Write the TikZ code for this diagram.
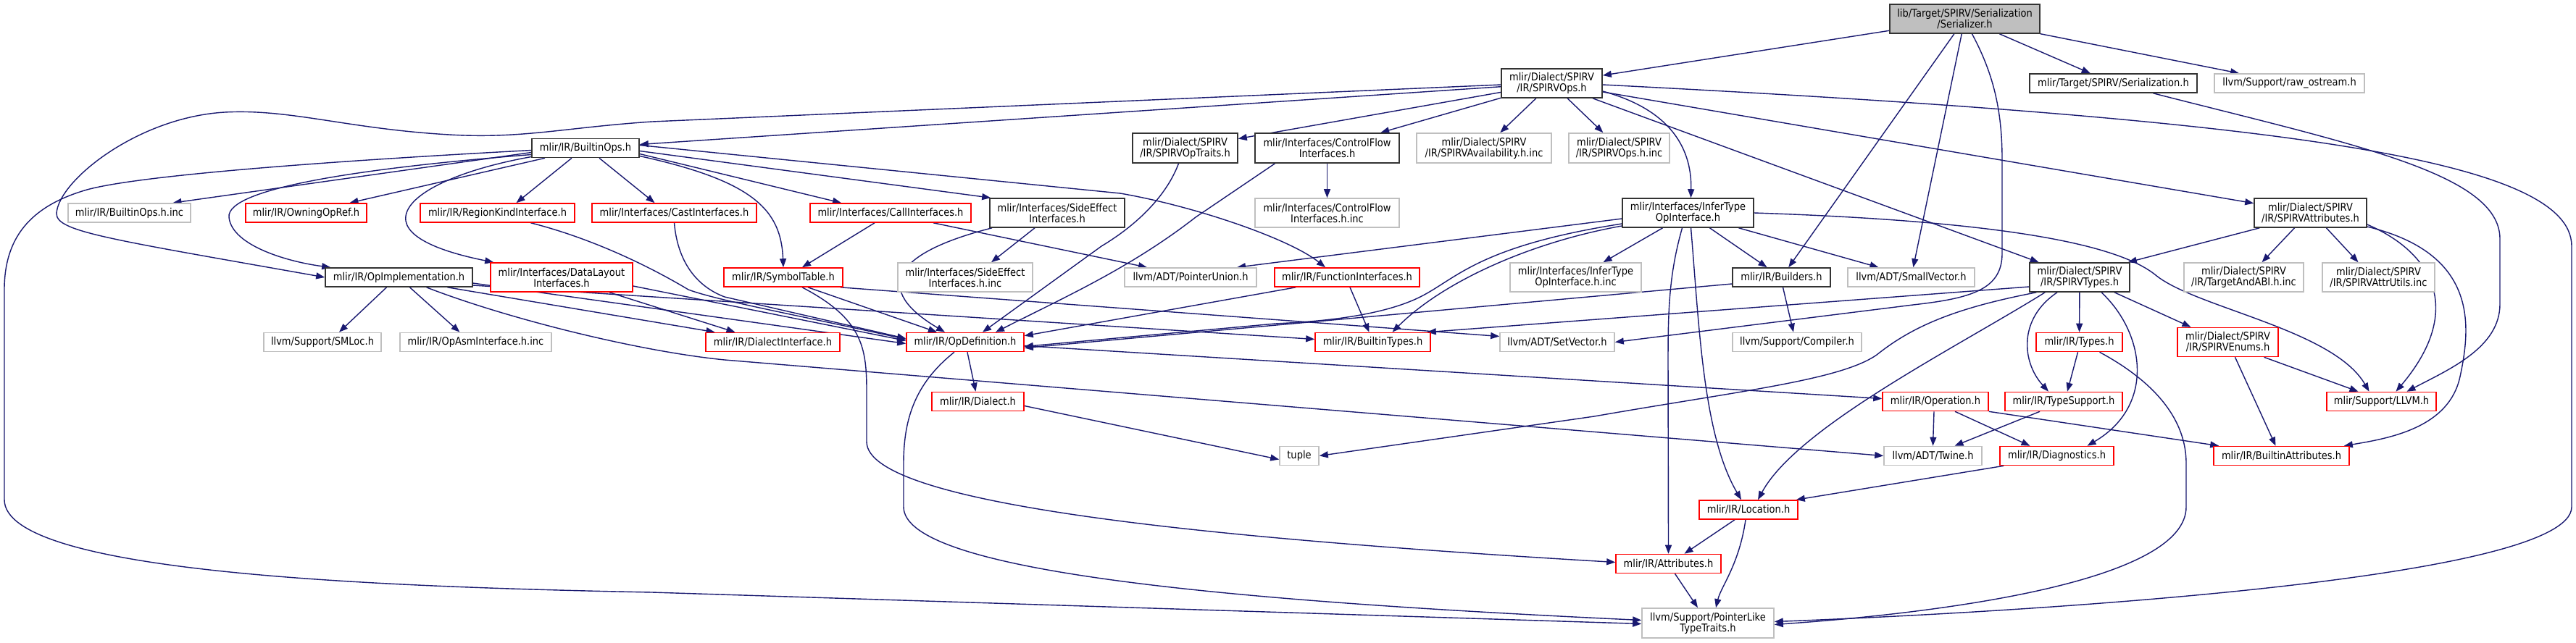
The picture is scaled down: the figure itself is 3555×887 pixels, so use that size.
\documentclass[tikz,border=0pt]{standalone}
\usepackage{fontspec}
\setmainfont{DejaVu Sans}[FakeStretch=0.88]
\usetikzlibrary{arrows.meta}
\definecolor{edgeblue}{HTML}{191970}
\pgfdeclarelayer{bg}
\pgfsetlayers{bg,main}
\tikzset{
  box/.style={rectangle, inner sep=0pt, align=center, fill=white, line width=1.6pt, font=\fontsize{14.8}{15}\selectfont},
  dk/.style={box, draw=black!80},
  rd/.style={box, draw=red},
  gy/.style={box, draw=black!25},
  cur/.style={box, draw=black!80, fill=black!25},
  conn/.style={draw=edgeblue, line width=1.4pt, -{Triangle[length=12pt,width=9pt]}}
}
\begin{document}
\begin{tikzpicture}[x=1pt,y=-1pt]
\useasboundingbox (0,0) rectangle (3555,887);
% nodes
\node[cur, minimum width=207pt, minimum height=40pt] (serializer) at (2711.5,26) {lib/Target/SPIRV/Serialization\\/Serializer.h};
\node[dk, minimum width=139pt, minimum height=40pt] (spirvops) at (2141.5,115) {mlir/Dialect/SPIRV\\/IR/SPIRVOps.h};
\node[dk, minimum width=231pt, minimum height=26pt] (serialization) at (2916.5,115) {mlir/Target/SPIRV/Serialization.h};
\node[gy, minimum width=207pt, minimum height=26pt] (rawostream) at (3159.5,115) {llvm/Support/raw\_ostream.h};
\node[dk, minimum width=148pt, minimum height=26pt] (builtinops) at (808,204.5) {mlir/IR/BuiltinOps.h};
\node[dk, minimum width=145pt, minimum height=41pt] (optraits) at (1635.5,204.5) {mlir/Dialect/SPIRV\\/IR/SPIRVOpTraits.h};
\node[dk, minimum width=199pt, minimum height=41pt] (cfi) at (1831.5,204.5) {mlir/Interfaces/ControlFlow\\Interfaces.h};
\node[gy, minimum width=186pt, minimum height=41pt] (avail) at (2048,204.5) {mlir/Dialect/SPIRV\\/IR/SPIRVAvailability.h.inc};
\node[gy, minimum width=139pt, minimum height=41pt] (opsinc) at (2234.5,204.5) {mlir/Dialect/SPIRV\\/IR/SPIRVOps.h.inc};
\node[dk, minimum width=155pt, minimum height=40pt] (attrs) at (3188.5,294) {mlir/Dialect/SPIRV\\/IR/SPIRVAttributes.h};
\node[gy, minimum width=169pt, minimum height=26pt] (builtinopsinc) at (178.5,294) {mlir/IR/BuiltinOps.h.inc};
\node[rd, minimum width=167pt, minimum height=26pt] (owning) at (422.5,294) {mlir/IR/OwningOpRef.h};
\node[rd, minimum width=213pt, minimum height=26pt] (regionkind) at (686.5,294) {mlir/IR/RegionKindInterface.h};
\node[rd, minimum width=227pt, minimum height=26pt] (cast) at (930.5,294) {mlir/Interfaces/CastInterfaces.h};
\node[rd, minimum width=222pt, minimum height=26pt] (call) at (1229,294) {mlir/Interfaces/CallInterfaces.h};
\node[dk, minimum width=186pt, minimum height=40pt] (sideeffect) at (1459,294) {mlir/Interfaces/SideEffect\\Interfaces.h};
\node[gy, minimum width=199pt, minimum height=40pt] (cfiinc) at (1831.5,294) {mlir/Interfaces/ControlFlow\\Interfaces.h.inc};
\node[dk, minimum width=181pt, minimum height=40pt] (infertype) at (2329.5,294) {mlir/Interfaces/InferType\\OpInterface.h};
\node[dk, minimum width=203pt, minimum height=26pt] (opimpl) at (550.5,383) {mlir/IR/OpImplementation.h};
\node[rd, minimum width=196pt, minimum height=40pt] (datalayout) at (775,383) {mlir/Interfaces/DataLayout\\Interfaces.h};
\node[rd, minimum width=164pt, minimum height=26pt] (symtab) at (1081,383) {mlir/IR/SymbolTable.h};
\node[gy, minimum width=186pt, minimum height=40pt] (seinc) at (1332,383) {mlir/Interfaces/SideEffect\\Interfaces.h.inc};
\node[gy, minimum width=182pt, minimum height=26pt] (ptrunion) at (1643,383) {llvm/ADT/PointerUnion.h};
\node[rd, minimum width=200pt, minimum height=26pt] (funcif) at (1859,383) {mlir/IR/FunctionInterfaces.h};
\node[gy, minimum width=181pt, minimum height=40pt] (inferinc) at (2174.5,383) {mlir/Interfaces/InferType\\OpInterface.h.inc};
\node[dk, minimum width=135pt, minimum height=26pt] (builders) at (2458.5,383) {mlir/IR/Builders.h};
\node[gy, minimum width=175pt, minimum height=26pt] (smallvec) at (2637.5,383) {llvm/ADT/SmallVector.h};
\node[dk, minimum width=138pt, minimum height=40pt] (spirvtypes) at (2870,383) {mlir/Dialect/SPIRV\\/IR/SPIRVTypes.h};
\node[gy, minimum width=165pt, minimum height=40pt] (tabi) at (3096.5,383) {mlir/Dialect/SPIRV\\/IR/TargetAndABI.h.inc};
\node[gy, minimum width=155pt, minimum height=40pt] (attrutils) at (3282.5,383) {mlir/Dialect/SPIRV\\/IR/SPIRVAttrUtils.inc};
\node[gy, minimum width=162pt, minimum height=26pt] (smloc) at (445,472.5) {llvm/Support/SMLoc.h};
\node[gy, minimum width=209pt, minimum height=26pt] (opasm) at (656.5,472.5) {mlir/IR/OpAsmInterface.h.inc};
\node[rd, minimum width=185pt, minimum height=26pt] (dialectif) at (1066.5,472.5) {mlir/IR/DialectInterface.h};
\node[rd, minimum width=162pt, minimum height=26pt] (opdef) at (1332,472.5) {mlir/IR/OpDefinition.h};
\node[rd, minimum width=159pt, minimum height=26pt] (builtintypes) at (1894.5,472.5) {mlir/IR/BuiltinTypes.h};
\node[gy, minimum width=158pt, minimum height=26pt] (setvector) at (2149,472.5) {llvm/ADT/SetVector.h};
\node[gy, minimum width=178pt, minimum height=26pt] (compiler) at (2480,472.5) {llvm/Support/Compiler.h};
\node[rd, minimum width=119pt, minimum height=26pt] (types) at (2869.5,472.5) {mlir/IR/Types.h};
\node[rd, minimum width=139pt, minimum height=40pt] (enums) at (3074.5,472.5) {mlir/Dialect/SPIRV\\/IR/SPIRVEnums.h};
\node[rd, minimum width=127pt, minimum height=26pt] (dialect) at (1349.5,554.5) {mlir/IR/Dialect.h};
\node[rd, minimum width=146pt, minimum height=26pt] (operation) at (2671,554.5) {mlir/IR/Operation.h};
\node[rd, minimum width=162pt, minimum height=26pt] (typesupport) at (2848,554.5) {mlir/IR/TypeSupport.h};
\node[rd, minimum width=151pt, minimum height=26pt] (llvmh) at (3286.5,554.5) {mlir/Support/LLVM.h};
\node[gy, minimum width=54pt, minimum height=26pt] (tuple) at (1793,629.5) {tuple};
\node[gy, minimum width=135pt, minimum height=26pt] (twine) at (2667.5,629.5) {llvm/ADT/Twine.h};
\node[rd, minimum width=157pt, minimum height=26pt] (diag) at (2838.5,629.5) {mlir/IR/Diagnostics.h};
\node[rd, minimum width=187pt, minimum height=26pt] (builtinattrs) at (3148.5,629.5) {mlir/IR/BuiltinAttributes.h};
\node[rd, minimum width=136pt, minimum height=26pt] (location) at (2413,704) {mlir/IR/Location.h};
\node[rd, minimum width=145pt, minimum height=26pt] (attributes) at (2302.5,778.5) {mlir/IR/Attributes.h};
\node[gy, minimum width=182pt, minimum height=41pt] (ptrlike) at (2357,860.5) {llvm/Support/PointerLike\\TypeTraits.h};

\begin{pgfonlayer}{bg}
\fill[white] (0,0) rectangle (3555,887);
% Serializer
\draw[conn] (serializer) -- (spirvops);
\draw[conn] (serializer) -- (serialization);
\draw[conn] (serializer) -- (rawostream);
\draw[conn] (serializer) -- (builders);
\draw[conn] (serializer) -- (smallvec);
\draw[conn] ([xshift=10]serializer.south) .. controls (2750,100) and (2763,150) .. (2763,220) -- (2763,350) .. controls (2763,400) and (2720,412) .. (2640,421) -- (setvector.east);
% SPIRVOps
\draw[conn] (spirvops) -- (optraits);
\draw[conn] (spirvops) -- (cfi);
\draw[conn] (spirvops) -- (avail);
\draw[conn] (spirvops) -- (opsinc);
\draw[conn] (spirvops) -- (spirvtypes);
\draw[conn] (spirvops) -- (attrs);
\draw[conn] (spirvops) -- (builtinops);
\draw[conn] ([yshift=-11]spirvops.east) .. controls (2300,150) and (2335,200) .. ([xshift=4]infertype.north);
\draw[conn] ([yshift=-2]spirvops.east) .. controls (3150,165) and (3549,220) .. (3549,340) -- (3549,700) .. controls (3549,800) and (2800,845) .. ([yshift=2]ptrlike.east);
\draw[conn] ([yshift=-2]spirvops.west) -- (900,168) .. controls (780,176) and (720,192) .. (620,186) .. controls (480,178) and (400,150) .. (310,155) .. controls (190,162) and (80,250) .. (78,295) .. controls (78,320) and (150,330) .. (opimpl.west);
% BuiltinOps
\draw[conn] ([yshift=-3]builtinops.west) .. controls (500,220) and (200,240) .. (120,262) .. controls (40,285) and (6,330) .. (6,400) -- (6,690) .. controls (6,790) and (500,810) .. (900,818) -- ([yshift=-1]ptrlike.west);
\draw[conn] ([yshift=-6]builtinops.west) -- ([xshift=60]builtinopsinc.north);
\draw[conn] ([yshift=-9]builtinops.west) .. controls (500,232) and (312,260) .. (316,300) .. controls (320,340) and (400,362) .. ([xshift=8]opimpl.north west);
\draw[conn] ([yshift=-12]builtinops.west) .. controls (630,235) and (555,270) .. (560,305) .. controls (565,335) and (630,352) .. ([xshift=5]datalayout.north west);
\draw[conn] ([xshift=-56]builtinops.south) -- ([xshift=60]owning.north);
\draw[conn] ([xshift=-19]builtinops.south) -- ([xshift=26]regionkind.north);
\draw[conn] ([xshift=19]builtinops.south) -- ([xshift=-27]cast.north);
\draw[conn] ([yshift=-8]builtinops.east) -- ([xshift=-68]call.north);
\draw[conn] ([yshift=-4]builtinops.east) -- ([xshift=2]sideeffect.north west);
\draw[conn] ([yshift=-11]builtinops.east) .. controls (1040,250) and (1078,290) .. (symtab.north);
\draw[conn] ([yshift=4]builtinops.east) -- (1546,267) .. controls (1650,285) and (1780,330) .. ([xshift=-30]funcif.north);
% second tier
\draw[conn] ([xshift=-9]optraits.south) .. controls (1610,270) and (1570,310) .. (1520,340) -- ([xshift=24]opdef.north);
\draw[conn] ([xshift=-72]cfi.south) -- (1650,300) .. controls (1560,370) and (1470,410) .. ([xshift=42]opdef.north);
\draw[conn] (cfi) -- (cfiinc);
\draw[conn] ([xshift=-31]sideeffect.south) -- ([xshift=36]seinc.north);
\draw[conn] ([xshift=-90]sideeffect.south) .. controls (1230,350) and (1205,400) .. ([xshift=-28]opdef.north);
\draw[conn] ([xshift=-22]call.south) -- ([xshift=26]symtab.north);
\draw[conn] ([xshift=59]call.south) -- ([xshift=-60]ptrunion.north);
\draw[conn] (cast.south) .. controls (935,360) and (960,395) .. (1000,410) -- ([yshift=5]opdef.west);
\draw[conn] ([xshift=46]regionkind.south) .. controls (820,330) and (900,370) .. (950,400) .. controls (990,415) and (1100,435) .. ([yshift=4]opdef.west);
\draw[conn] ([yshift=-12]datalayout.east) -- ([yshift=2]opdef.west);
\draw[conn] ([xshift=66]datalayout.south) -- ([xshift=-52]dialectif.north);
% OpImplementation
\draw[conn] ([xshift=-17]opimpl.south) -- ([xshift=23]smloc.north);
\draw[conn] ([xshift=15]opimpl.south) -- ([xshift=-22]opasm.north);
\draw[conn] ([xshift=38]opimpl.south) .. controls (700,440) and (880,485) .. (1000,497) -- (twine.west);
\draw[conn] ([xshift=67]opimpl.south) -- ([xshift=-80]dialectif.north);
\draw[conn] ([yshift=-8]opimpl.east) -- ([yshift=-2]opdef.west);
\draw[conn] ([yshift=-11]opimpl.east) -- ([yshift=4]builtintypes.west);
% OpDefinition
\draw[conn] (opdef) -- (dialect);
\draw[conn] ([yshift=-5]opdef.east) -- ([yshift=4]operation.west);
\draw[conn] ([xshift=-15]opdef.south) .. controls (1262,530) and (1247,580) .. (1247,640) -- (1247,700) .. controls (1247,790) and (1700,830) .. ([yshift=4]ptrlike.west);
\draw[conn] ([yshift=-6]dialect.east) -- ([yshift=-5]tuple.west);
% SymbolTable
\draw[conn] ([xshift=34]symtab.south) -- ([xshift=-39]opdef.north);
\draw[conn] ([xshift=-4]symtab.south east) -- ([yshift=8]setvector.west);
\draw[conn] ([xshift=26]symtab.south) .. controls (1190,440) and (1196,480) .. (1196,540) -- (1196,610) .. controls (1196,700) and (1700,745) .. ([yshift=2]attributes.west);
% FunctionInterfaces
\draw[conn] ([xshift=30]funcif.south west) -- ([yshift=-5]opdef.north east);
\draw[conn] ([xshift=4]funcif.south) -- ([xshift=-5]builtintypes.north);
% InferType
\draw[conn] ([yshift=-8]infertype.west) -- ([xshift=64]ptrunion.north);
\draw[conn] ([yshift=-15]infertype.west) .. controls (2040,340) and (2010,385) .. (1960,410) .. controls (1900,440) and (1800,445) .. (1760,447) -- ([yshift=-6]opdef.east);
\draw[conn] ([yshift=-18]infertype.west) .. controls (2110,335) and (1990,390) .. ([xshift=27]builtintypes.north);
\draw[conn] ([xshift=-35]infertype.south) -- ([xshift=38]inferinc.north);
\draw[conn] ([xshift=30]infertype.south) -- ([xshift=-20]builders.north);
\draw[conn] ([xshift=70]infertype.south) -- ([xshift=-45]smallvec.north);
\draw[conn] ([xshift=-8]infertype.south) .. controls (2303,380) and (2302,430) .. (2302,500) -- (attributes.north);
\draw[conn] ([xshift=4]infertype.south) .. controls (2345,450) and (2350,600) .. ([xshift=-10]location.north);
\draw[conn] (infertype.east) .. controls (2750,305) and (2920,335) .. (2975,380) .. controls (3030,425) and (3220,455) .. ([xshift=-17]llvmh.north);
% Builders
\draw[conn] ([yshift=-9]builders.west) -- ([yshift=-8]opdef.east);
\draw[conn] ([xshift=2]builders.south) -- ([xshift=-5]compiler.north);
% SPIRVTypes
\draw[conn] ([yshift=-13]spirvtypes.west) -- ([xshift=-5]builtintypes.north east);
\draw[conn] ([xshift=10]spirvtypes.south west) .. controls (2700,425) and (2640,450) .. (2590,490) .. controls (2540,525) and (2400,540) .. (2200,575) -- (tuple.east);
\draw[conn] ([xshift=22]spirvtypes.south west) .. controls (2700,480) and (2480,590) .. ([xshift=13]location.north);
\draw[conn] ([xshift=-31]spirvtypes.south) .. controls (2785,440) and (2790,500) .. ([xshift=-21]typesupport.north);
\draw[conn] (spirvtypes) -- (types);
\draw[conn] ([xshift=48]spirvtypes.south) -- ([xshift=-51]enums.north);
\draw[conn] ([xshift=30]spirvtypes.south) .. controls (2960,460) and (2975,560) .. ([xshift=42]diag.north);
% Types
\draw[conn] ([xshift=-2]types.south) -- ([xshift=5]typesupport.north);
\draw[conn] ([xshift=28]types.south) .. controls (2960,520) and (3017,570) .. (3017,640) -- (3017,700) .. controls (3017,800) and (2700,845) .. ([yshift=-2]ptrlike.east);
% Enums
\draw[conn] ([xshift=50]enums.south) -- ([xshift=-32]llvmh.north);
\draw[conn] ([xshift=10]enums.south) -- ([xshift=-8]builtinattrs.north);
% SPIRVAttributes
\draw[conn] ([xshift=8]attrs.south west) -- ([xshift=-3]spirvtypes.north east);
\draw[conn] ([xshift=-22]attrs.south) -- ([xshift=25]tabi.north);
\draw[conn] ([xshift=22]attrs.south) -- ([xshift=-28]attrutils.north);
\draw[conn] ([yshift=-16]attrs.east) .. controls (3360,350) and (3400,430) .. ([xshift=20]llvmh.north);
\draw[conn] ([yshift=-19]attrs.east) .. controls (3420,350) and (3410,450) .. (3395,520) .. controls (3380,590) and (3300,605) .. ([xshift=-8]builtinattrs.north east);
% Serialization
\draw[conn] ([xshift=55]serialization.south) .. controls (3250,200) and (3450,240) .. (3450,330) -- (3450,420) .. controls (3450,480) and (3380,510) .. ([xshift=35]llvmh.north);
% Operation etc.
\draw[conn] ([xshift=-2]operation.south) -- (twine.north);
\draw[conn] ([xshift=27]operation.south) -- ([xshift=-37]diag.north);
\draw[conn] (operation.south east) -- ([xshift=8]builtinattrs.north west);
\draw[conn] ([xshift=-33]typesupport.south) -- ([xshift=30]twine.north);
\draw[conn] ([xshift=6]diag.south west) -- ([xshift=-3]location.north east);
\draw[conn] ([xshift=-19]location.south) -- ([xshift=22]attributes.north);
\draw[conn] ([xshift=-4]location.south) .. controls (2400,780) and (2375,810) .. ([xshift=11]ptrlike.north);
\draw[conn] ([xshift=9]attributes.south) -- ([xshift=-14]ptrlike.north);
\end{pgfonlayer}
\end{tikzpicture}
\end{document}
